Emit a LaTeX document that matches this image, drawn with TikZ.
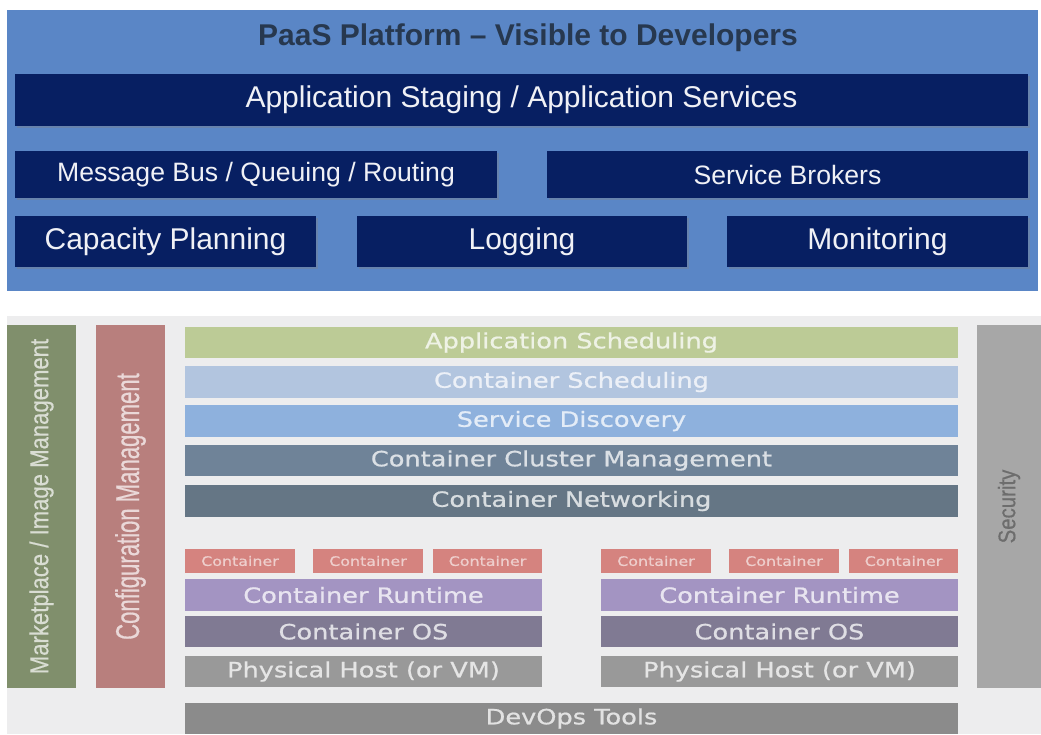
\documentclass[tikz,border=0pt]{standalone}
\usepackage{fontspec}
\setmainfont{Liberation Sans}
\newfontfamily\layerfont[FakeStretch=1.22, FakeBold=0.8]{DejaVu Sans}
\newfontfamily\marketfont[FakeStretch=0.85, FakeBold=0.5]{Liberation Sans}
\newfontfamily\configfont[FakeStretch=0.67, FakeBold=0.5]{Liberation Sans}
\usetikzlibrary{positioning,shadows}

\definecolor{paasblue}{HTML}{5A86C6}
\definecolor{paasnavy}{HTML}{071F62}
\definecolor{titlegrey}{HTML}{27384F}
\definecolor{stackbg}{HTML}{EDEDEE}
\definecolor{marketgreen}{HTML}{808F6C}
\definecolor{configred}{HTML}{B87F7D}
\definecolor{securitygrey}{HTML}{A7A7A7}
\definecolor{appsched}{HTML}{BCCB96}
\definecolor{contsched}{HTML}{B2C5DF}
\definecolor{discovery}{HTML}{8EB1DD}
\definecolor{cluster}{HTML}{6F8398}
\definecolor{network}{HTML}{657685}
\definecolor{container}{HTML}{D5837F}
\definecolor{runtime}{HTML}{A394C2}
\definecolor{contos}{HTML}{807A93}
\definecolor{host}{HTML}{999999}
\definecolor{devops}{HTML}{8B8B8B}

\tikzset{
  box/.style={rectangle, inner sep=0pt, outer sep=0pt, anchor=north west, align=center},
  navybar/.style={box, fill=paasnavy, text=white!94!paasnavy,
    drop shadow={opacity=0.35, shadow xshift=2pt, shadow yshift=-2pt}},
  layer/.style={box, fill=#1, text=white!75!#1, minimum height=31pt,
    font=\layerfont\fontsize{21}{21}\selectfont},
  ctr/.style={box, fill=container, text=white!60!container, minimum width=110pt,
    minimum height=24pt, font=\layerfont\fontsize{13}{13}\selectfont},
  sidebar/.style={rectangle, inner sep=0pt, rotate=90, fill=#1, minimum width=363pt}
}

\begin{document}
\begin{tikzpicture}[x=1pt, y=-1pt]
  \useasboundingbox (0,0) rectangle (1041,734);

  % developer facing platform
  \node (paas) [box, fill=paasblue, minimum width=1031pt, minimum height=281pt] at (7,10) {};
  \node (title) [text=titlegrey, font=\bfseries\fontsize{30}{30}\selectfont] at (528,38)
    {PaaS Platform -- Visible to Developers};
  \node (staging) [navybar, minimum width=1013pt, minimum height=52pt,
    font=\fontsize{30}{30}\selectfont] at (15,74) {Application Staging / Application Services};
  \node (msgbus) [navybar, minimum width=482pt, minimum height=47pt,
    font=\fontsize{26.6}{27}\selectfont] at (15,151) {Message Bus / Queuing / Routing};
  \node (brokers) [navybar, minimum width=481pt, minimum height=47pt,
    font=\fontsize{26.6}{27}\selectfont] at (547,151) {Service Brokers};
  \node (capacity) [navybar, minimum width=301pt, minimum height=51pt,
    font=\fontsize{30}{30}\selectfont] at (15,216) {Capacity Planning};
  \node (logging) [navybar, minimum width=330pt, minimum height=51pt,
    font=\fontsize{30}{30}\selectfont] at (357,216) {Logging};
  \node (monitoring) [navybar, minimum width=301pt, minimum height=51pt,
    font=\fontsize{30}{30}\selectfont] at (727,216) {Monitoring};

  % container stack
  \node (stack) [box, fill=stackbg, minimum width=1034pt, minimum height=418pt] at (7,316) {};
  \node (market) [sidebar=marketgreen, minimum height=69pt, text=white!70!marketgreen,
    font=\marketfont\fontsize{26}{26}\selectfont] at (41.5,506.5) {Marketplace / Image Management};
  \node (config) [sidebar=configred, minimum height=69pt, text=white!70!configred,
    font=\configfont\fontsize{33}{33}\selectfont] at (130.5,506.5) {Configuration Management};
  \node (security) [sidebar=securitygrey, minimum height=64pt, text=black!35!securitygrey,
    font=\marketfont\fontsize{24}{24}\selectfont] at (1009,506.5) {Security};

  \node (asched) [layer=appsched, minimum width=773pt] at (185,327) {Application Scheduling};
  \node (csched) [layer=contsched, minimum width=773pt, minimum height=32pt] at (185,366) {Container Scheduling};
  \node (discov) [layer=discovery, minimum width=773pt, minimum height=32pt] at (185,405) {Service Discovery};
  \node (clustermgmt) [layer=cluster, minimum width=773pt] at (185,445) {Container Cluster Management};
  \node (networking) [layer=network, minimum width=773pt, minimum height=32pt] at (185,485) {Container Networking};

  % one host column per side
  \foreach \x/\side in {185/l, 601/r} {
    \node (ctra\side) [ctr] at (\x,549) {Container};
    \node (ctrb\side) [ctr] at (\x+128,549) {Container};
    \node (ctrc\side) [ctr, minimum width=109pt] at (\x+248,549) {Container};
    \node (runtime\side) [layer=runtime, minimum width=357pt, minimum height=32pt] at (\x,579) {Container Runtime};
    \node (os\side) [layer=contos, minimum width=357pt] at (\x,616) {Container OS};
    \node (host\side) [layer=host, minimum width=357pt] at (\x,656) {Physical Host (or VM)};
  }

  \node (devops) [layer=devops, minimum width=773pt] at (185,703) {DevOps Tools};
\end{tikzpicture}
\end{document}
